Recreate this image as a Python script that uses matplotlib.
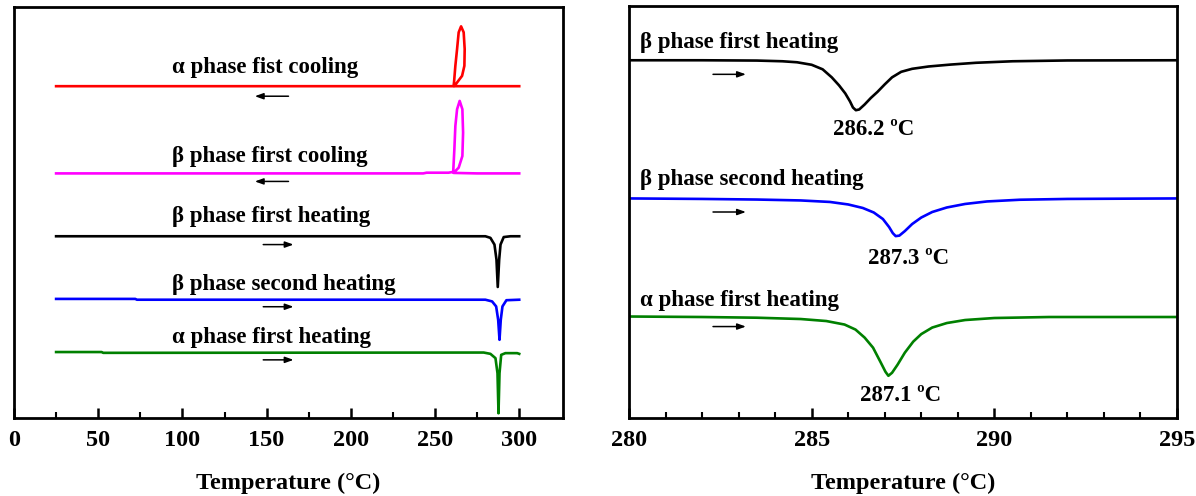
import numpy as np
import matplotlib
matplotlib.use("Agg")
import matplotlib.pyplot as plt
from matplotlib.ticker import MultipleLocator, FixedLocator

plt.rcParams['font.family'] = ['Liberation Serif', 'DejaVu Serif']
plt.rcParams['font.weight'] = 'bold'

# ---- left panel: full DSC scans (temperature in C, heat flow in a.u.) ----
red_T = [300, 280, 261.5, 263.1, 266.07, 267.44, 267.62, 267.02, 265.48,
         264.05, 263.1, 262.08, 261.3, 261.0, 25]
red_hf = [33.1, 33.1, 33.1, 33.47, 34.13, 35.13, 36.8, 38.47, 39.07,
          38.47, 36.8, 35.13, 33.5, 33.1, 33.1]

mag_T = [300, 275, 261.0, 264.05, 266.25, 266.67, 266.25, 264.64, 263.1,
         262.08, 261.49, 260.8, 258, 245, 243, 25]
mag_hf = [24.4, 24.4, 24.45, 24.97, 26.13, 28.47, 30.8, 31.63, 30.8,
          29.13, 26.8, 24.55, 24.47, 24.47, 24.4, 24.4]

blk_T = [25, 279.9, 282.9, 285.3, 286.5, 287.26, 288.1, 288.9, 290.8, 294.8, 300]
blk_hf = [18.13, 18.13, 17.97, 17.3, 15.8, 13.07, 15.8, 17.3, 18.05, 18.13, 18.13]

blu_T = [25, 72, 73, 279.9, 283.9, 286.3, 287.5, 288.3, 289.05, 290.05, 292.4, 300]
blu_hf = [11.88, 11.88, 11.8, 11.8, 11.63, 11.13, 9.8, 7.8, 9.8, 11.13, 11.75, 11.8]

grn_T = [25, 52, 53, 278.9, 282.9, 285.9, 287.1, 287.7, 288.3, 289.3, 291.8, 298.8, 300]
grn_hf = [6.58, 6.58, 6.5, 6.53, 6.4, 5.97, 4.47, 0.47, 4.47, 6.3, 6.47, 6.47, 6.4]

left_labels = ['α phase fist cooling', 'β phase first cooling', 'β phase first heating',
               'β phase second heating', 'α phase first heating']

# ---- right panel: zoom of the melting peaks ----
z_blk_T = [280.0, 282.0, 283.5, 284.2, 284.6, 285.0, 285.3, 285.55, 285.75, 285.92,
           286.05, 286.13, 286.21, 286.3, 286.45, 286.62, 286.8, 287.0, 287.2,
           287.45, 287.75, 288.2, 288.8, 289.5, 290.5, 292.0, 295.0]
z_blk_hf = [35.6, 35.6, 35.57, 35.5, 35.4, 35.15, 34.7, 33.9, 33.1, 32.3,
            31.5, 30.9, 30.63, 30.7, 31.2, 31.85, 32.45, 33.2, 33.9,
            34.45, 34.75, 34.98, 35.17, 35.35, 35.5, 35.58, 35.6]

z_blu_T = [280.0, 282.0, 283.5, 284.7, 285.5, 286.0, 286.4, 286.7, 286.95, 287.12,
           287.22, 287.3, 287.4, 287.55, 287.75, 288.0, 288.3, 288.7, 289.2,
           289.8, 290.7, 292.0, 295.0]
z_blu_hf = [21.85, 21.8, 21.74, 21.65, 21.5, 21.25, 20.9, 20.45, 19.8, 19.0,
            18.4, 18.1, 18.15, 18.6, 19.3, 19.95, 20.5, 20.95, 21.3,
            21.55, 21.72, 21.8, 21.85]

z_grn_T = [280.0, 282.0, 283.5, 284.7, 285.4, 285.9, 286.2, 286.45, 286.68, 286.88,
           287.02, 287.1, 287.2, 287.35, 287.55, 287.78, 288.0, 288.3, 288.7,
           289.2, 290.0, 291.5, 295.0]
z_grn_hf = [10.1, 10.05, 9.98, 9.85, 9.65, 9.3, 8.8, 8.0, 7.0, 5.6,
            4.6, 4.2, 4.5, 5.3, 6.5, 7.6, 8.35, 9.0, 9.45,
            9.75, 9.95, 10.05, 10.05]

right_labels = ['β phase first heating', 'β phase second heating', 'α phase first heating']
peak_temps = [286.2, 287.3, 287.1]

colors = ['#ff0000', '#ff00ff', '#000000', '#0000ff', '#008000']

fig = plt.figure(figsize=(11.96, 4.96), dpi=100)
ax1 = fig.add_axes([14 / 1196, 78 / 496, 549 / 1196, 411 / 496])
ax2 = fig.add_axes([629 / 1196, 78 / 496, 548 / 1196, 412 / 496])

lw = 1.9
fs = 16.5
arrow_style = dict(arrowstyle='-|>,head_length=0.5,head_width=0.18',
                   color='black', lw=1.1, shrinkA=0, shrinkB=0)

curves = [(red_T, red_hf), (mag_T, mag_hf), (blk_T, blk_hf), (blu_T, blu_hf), (grn_T, grn_hf)]
for (t, hf), c in zip(curves, colors):
    ax1.plot(t, hf, color=c, lw=lw, solid_joinstyle='round')

label_y = [35.0, 26.1, 20.1, 13.3, 8.0]
arrow_y = [32.1, 23.6, 17.3, 11.1, 5.8]
for i, lab in enumerate(left_labels):
    ax1.text(94, label_y[i], lab, ha='left', va='center', fontsize=fs, fontweight='bold')
    if i < 2:
        start, end = 163, 143
    else:
        start, end = 148, 166
    ax1.annotate('', xy=(end, arrow_y[i]), xytext=(start, arrow_y[i]), arrowprops=arrow_style)

ax1.set_xlim(0, 326)
ax1.set_ylim(0, 41)
ax1.xaxis.set_major_locator(MultipleLocator(50))
ax1.xaxis.set_minor_locator(FixedLocator([25, 75, 125, 175, 225, 275]))

zcurves = [(z_blk_T, z_blk_hf), (z_blu_T, z_blu_hf), (z_grn_T, z_grn_hf)]
zcolors = colors[2:]
rlabel_y = [37.4, 23.7, 11.7]
rarrow_y = [34.2, 20.5, 9.1]
peak_pos = [(286.7, 28.7), (287.64, 15.9), (287.42, 2.2)]
for i, ((t, hf), c) in enumerate(zip(zcurves, zcolors)):
    ax2.plot(t, hf, color=c, lw=lw, solid_joinstyle='round')
    ax2.text(280.3, rlabel_y[i], right_labels[i], ha='left', va='center',
             fontsize=fs, fontweight='bold')
    ax2.annotate('', xy=(283.2, rarrow_y[i]), xytext=(282.3, rarrow_y[i]), arrowprops=arrow_style)
    ax2.text(peak_pos[i][0], peak_pos[i][1], f'{peak_temps[i]} ºC', ha='center', va='center',
             fontsize=fs, fontweight='bold')

ax2.set_xlim(280, 295)
ax2.set_ylim(0, 41)
ax2.xaxis.set_major_locator(MultipleLocator(5))
ax2.xaxis.set_minor_locator(MultipleLocator(1))

for ax in (ax1, ax2):
    for sp in ax.spines.values():
        sp.set_linewidth(2)
    ax.set_yticks([])
    ax.tick_params(axis='x', which='major', direction='in', length=7, width=1.8,
                   labelsize=17.5, pad=9)
    ax.tick_params(axis='x', which='minor', direction='in', length=4, width=1.5)
    for lbl in ax.get_xticklabels():
        lbl.set_fontweight('bold')
    ax.set_xlabel('Temperature (°C)', fontsize=17.5, fontweight='bold', labelpad=15)

fig.savefig('out.png', dpi=100)
